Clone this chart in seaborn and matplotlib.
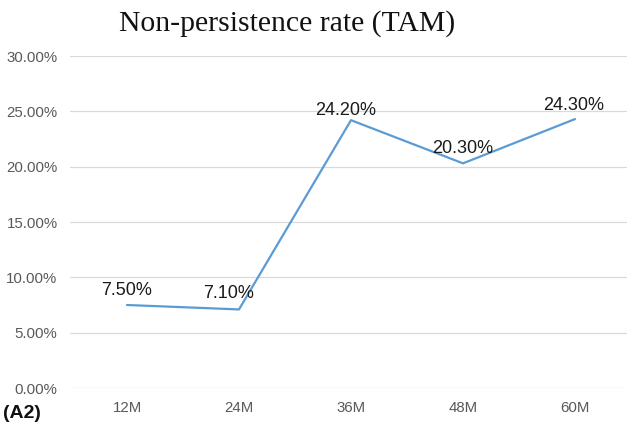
import matplotlib
matplotlib.use("Agg")
import matplotlib.pyplot as plt
import seaborn as sns
import pandas as pd

periods = ["12M", "24M", "36M", "48M", "60M"]
rates = [7.5, 7.1, 24.2, 20.3, 24.3]
y_ticks = [0, 5, 10, 15, 20, 25, 30]

sns.set_theme(style="white")
plt.rcParams["font.family"] = ["Liberation Sans", "DejaVu Sans"]

df = pd.DataFrame({"period": periods, "rate": rates, "pos": range(len(periods))})

fig = plt.figure(figsize=(6.27, 4.33), dpi=100)
ax = fig.add_axes([70 / 627, 45 / 433, 557 / 627, 332 / 433])

for y in y_ticks:
    ax.axhline(y, color="#d9d9d9", lw=0.9, zorder=0)

sns.lineplot(data=df, x="pos", y="rate", ax=ax, color="#5b9bd5", lw=1.6,
             marker=None, legend=False)

# per-label nudges (points) so the value text sits clear of the line
offsets = [(0, 7.2), (-7.2, 7.9), (-4, 3.6), (0, 7.2), (-0.7, 6.5)]
for x, y, off in zip(df["pos"], df["rate"], offsets):
    ax.annotate(f"{y:.2f}%", (x, y), xytext=off, textcoords="offset points",
                ha="center", va="baseline", fontsize=13, color="#1a1a1a")

ax.set_xlim(-57 / 112, 4 + 52 / 112)
ax.set_ylim(0, 30)
ax.set_xticks(range(len(periods)))
ax.set_xticklabels(periods)
ax.set_yticks(y_ticks)
ax.set_yticklabels([f"{v:.2f}%" for v in y_ticks])
ax.tick_params(axis="both", colors="#595959", labelsize=10.8, length=0)
ax.tick_params(axis="x", pad=9)
ax.tick_params(axis="y", pad=9)
ax.set_xlabel("")
ax.set_ylabel("")
for s in ax.spines.values():
    s.set_visible(False)

fig.text(0.4585, 0.946, "Non-persistence rate (TAM)", ha="center", va="center",
         fontsize=21.4, family=["Liberation Serif", "DejaVu Serif"], color="#111111")
fig.text(0.005, 0.046, "(A2)", ha="left", va="center", fontsize=14,
         fontweight="bold", color="#111111")

fig.savefig("out.png", dpi=100, facecolor="white")
